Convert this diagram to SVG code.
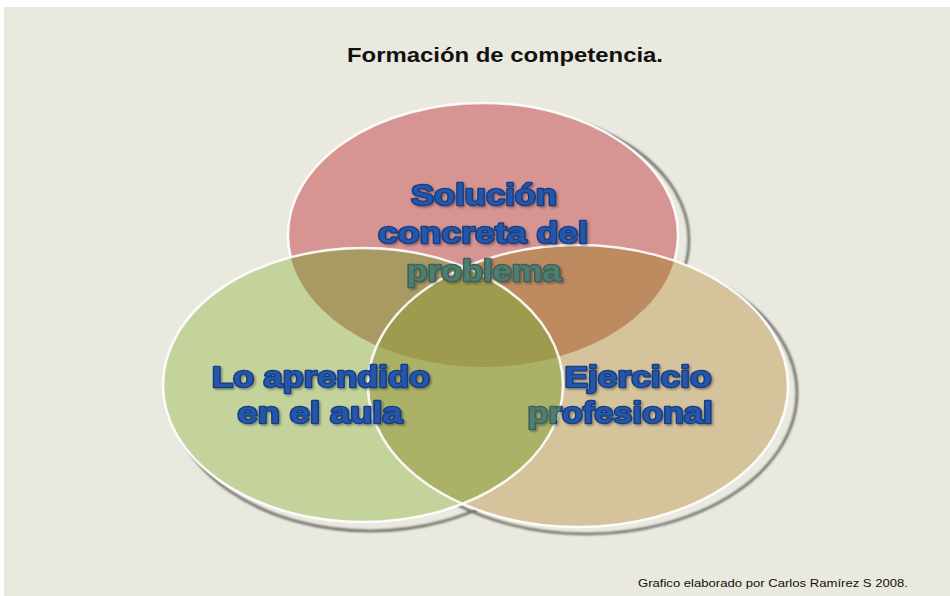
<svg xmlns="http://www.w3.org/2000/svg" width="950" height="596" viewBox="0 0 950 596">
<defs>
  <style>
    .lbl{font-family:"Liberation Sans",Arial,sans-serif;font-weight:bold;font-size:30px;text-anchor:middle;fill:#2557aa;stroke:#163d82;stroke-width:2.6px;stroke-linejoin:round;paint-order:stroke;}
    .muted{fill:#4d7f70;stroke:#3c5f58;}
    .shadow{fill:none;stroke:#6a6a66;stroke-width:2.5;}
    .rim{fill:none;stroke:#ffffff;stroke-width:2.5;stroke-opacity:0.9;}
  </style>
  <filter id="blur" x="-10%" y="-10%" width="120%" height="120%"><feGaussianBlur stdDeviation="1"/></filter>
  <filter id="ts" x="-10%" y="-30%" width="120%" height="160%"><feDropShadow dx="1.5" dy="1.5" stdDeviation="0.8" flood-color="#000" flood-opacity="0.35"/></filter>
  <ellipse id="eR" cx="483" cy="235" rx="195" ry="132"/>
  <ellipse id="eG" cx="363" cy="385" rx="200" ry="137"/>
  <ellipse id="eT" cx="578" cy="386" rx="210" ry="141"/>
  <clipPath id="cR"><use href="#eR"/></clipPath>
  <clipPath id="cG"><use href="#eG"/></clipPath>
  <clipPath id="cT"><use href="#eT"/></clipPath>
  <clipPath id="cNotG"><path clip-rule="evenodd" d="M0 0H950V596H0Z M163 385 A200 137 0 1 0 563 385 A200 137 0 1 0 163 385Z"/></clipPath>
</defs>
<rect x="0" y="0" width="950" height="596" fill="#ffffff"/>
<rect x="4" y="7" width="946" height="589" fill="#eae9df"/>

<g id="title">
  <text x="505" y="62" font-family="'Liberation Sans',Arial,sans-serif" font-weight="bold" font-size="20" fill="#111" text-anchor="middle" textLength="316" lengthAdjust="spacingAndGlyphs">Formación de competencia.</text>
</g>

<g id="shadows" filter="url(#blur)">
  <ellipse class="shadow" cx="491" cy="240" rx="198" ry="132"/>
  <ellipse class="shadow" cx="370" cy="392" rx="200" ry="139"/>
  <ellipse class="shadow" cx="586" cy="393" rx="211" ry="141"/>
</g>

<g id="node-solucion">
  <use href="#eR" fill="#d69493"/>
  <use href="#eR" class="rim"/>
</g>
<g id="node-ejercicio">
  <use href="#eT" fill="#d5c39b"/>
</g>
<g id="node-aula">
  <use href="#eG" fill="#c4d39c"/>
</g>
<g id="overlaps">
  <g clip-path="url(#cR)"><use href="#eG" fill="#a89a62"/></g>
  <g clip-path="url(#cR)"><use href="#eT" fill="#be8a60"/></g>
  <g clip-path="url(#cG)"><use href="#eT" fill="#abb268"/></g>
  <g clip-path="url(#cR)"><g clip-path="url(#cG)"><use href="#eT" fill="#9e9a4e"/></g></g>
</g>
<g id="rims">
  <use href="#eT" class="rim"/>
  <use href="#eG" class="rim"/>
</g>

<g id="labels" filter="url(#ts)">
  <text class="lbl" x="484" y="205" textLength="146" lengthAdjust="spacingAndGlyphs">Solución</text>
  <text class="lbl" x="483" y="243" textLength="210" lengthAdjust="spacingAndGlyphs">concreta del</text>
  <text class="lbl muted" x="484" y="281" textLength="155" lengthAdjust="spacingAndGlyphs">problema</text>
  <text class="lbl" x="321" y="387" textLength="218" lengthAdjust="spacingAndGlyphs">Lo aprendido</text>
  <text class="lbl" x="320" y="423" textLength="165" lengthAdjust="spacingAndGlyphs">en el aula</text>
  <text class="lbl" x="638" y="387" textLength="147" lengthAdjust="spacingAndGlyphs">Ejercicio</text>
  <g clip-path="url(#cNotG)"><text class="lbl" x="620" y="423" textLength="185" lengthAdjust="spacingAndGlyphs">profesional</text></g>
  <g clip-path="url(#cG)"><text class="lbl muted" x="620" y="423" textLength="185" lengthAdjust="spacingAndGlyphs">profesional</text></g>
</g>

<g id="footer">
  <text x="908" y="587" font-family="'Liberation Sans',Arial,sans-serif" font-size="11" fill="#111" text-anchor="end" textLength="270" lengthAdjust="spacingAndGlyphs">Grafico elaborado por Carlos Ramírez S 2008.</text>
</g>
<g id="connectors"/>
</svg>
